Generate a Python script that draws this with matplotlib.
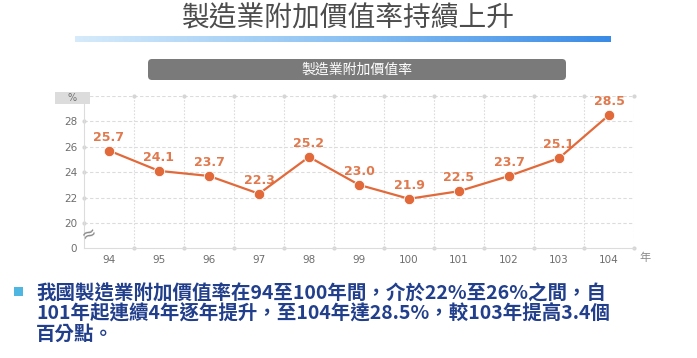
import numpy as np
import matplotlib
matplotlib.use("Agg")
import matplotlib.pyplot as plt
from matplotlib.patches import FancyBboxPatch, Rectangle
from matplotlib.colors import LinearSegmentedColormap

# data
years = [94, 95, 96, 97, 98, 99, 100, 101, 102, 103, 104]
rate = [25.7, 24.1, 23.7, 22.3, 25.2, 23.0, 21.9, 22.5, 23.7, 25.1, 28.5]
ytick_vals = [18, 20, 22, 24, 26, 28]
ytick_labels = ["0", "20", "22", "24", "26", "28"]

title = "製造業附加價值率持續上升"
box_title = "製造業附加價值率"
note_lines = ["我國製造業附加價值率在94至100年間，介於22%至26%之間，自",
              "101年起連續4年逐年提升，至104年達28.5%，較103年提高3.4個",
              "百分點。"]

CJK = ["Noto Sans CJK TC", "DejaVu Sans"]
orange = "#e2693a"
grid_c = "#dcdcdc"
tick_c = "#6e6e6e"

W, H = 697, 358
fig = plt.figure(figsize=(W / 100, H / 100), dpi=100)
fig.patch.set_facecolor("white")

# overlay in pixel coordinates (decorations behind the chart)
ov = fig.add_axes([0, 0, 1, 1])
ov.set_xlim(0, W)
ov.set_ylim(H, 0)
ov.axis("off")

# main chart axes (pixel box: x 84..634, y 96..248)
ax = fig.add_axes([84 / W, 1 - 248.3 / H, 550 / W, 152.3 / H])
ax.patch.set_alpha(0)
ax.set_xlim(93.5, 104.5)
ax.set_ylim(18, 30)

ax.plot(years, rate, color=orange, lw=1.6, marker="o", ms=7.5,
        markerfacecolor=orange, markeredgecolor="white", markeredgewidth=0.6,
        zorder=5)
for x, v in zip(years, rate):
    ax.annotate(f"{v:.1f}", (x, v), xytext=(0, 5), textcoords="offset points",
                ha="center", va="bottom", fontsize=9, fontweight="bold",
                color="#e07a4e")

ax.set_xticks(years)
ax.set_xticklabels([str(y) for y in years], fontsize=7.5, color=tick_c)
ax.set_yticks(ytick_vals)
ax.set_yticklabels(ytick_labels, fontsize=7.5, color=tick_c)
ax.tick_params(length=0, pad=5)

# grid
for yv in [20, 22, 24, 26, 28, 30]:
    ax.axhline(yv, color=grid_c, lw=0.8, ls=(0, (3, 2)), zorder=1)
for xv in np.arange(94.5, 105, 1.0):
    ax.axvline(xv, color=grid_c, lw=0.8, ls=(0, (1.5, 1.5)), zorder=1)
for s in ["top", "right"]:
    ax.spines[s].set_visible(False)
ax.spines["left"].set_color(grid_c)
ax.spines["bottom"].set_color(grid_c)

# small dots at grid ends
gx = np.arange(94.5, 105, 1.0)
dot_c = "#d6d6d6"
ax.scatter(gx, [30] * len(gx), s=9, color=dot_c, clip_on=False, zorder=2, linewidths=0)
ax.scatter(gx, [18] * len(gx), s=9, color=dot_c, clip_on=False, zorder=2, linewidths=0)
ax.scatter([93.5] * 5, [20, 22, 24, 26, 28], s=9, color=dot_c,
           clip_on=False, zorder=2, linewidths=0)

# axis break mark
ax.text(93.6, 19.1, "≈", fontsize=13, color="#8a8a8a", ha="center",
        va="center", rotation=25, clip_on=False)

ov.text(348, 18, title, fontsize=20, family=CJK, color="#4d4d4d",
        ha="center", va="center", fontweight="medium")

# gradient bar
cmap = LinearSegmentedColormap.from_list("bar", ["#d6ebfb", "#8cc2f3", "#3a8be6"])
grad = np.linspace(0, 1, 256).reshape(1, -1)
ov.imshow(grad, cmap=cmap, extent=[75, 611, 42, 36], aspect="auto")

# gray header box
ov.add_patch(FancyBboxPatch((148, 59), 418, 21, boxstyle="round,pad=0,rounding_size=4",
                            facecolor="#7a7a7a", edgecolor="none"))
ov.text(357, 69.5, box_title, fontsize=10, family=CJK, color="white",
        ha="center", va="center")

# % box
ov.add_patch(Rectangle((55, 92), 35, 12, facecolor="#dcdcdc", edgecolor="none"))
ov.text(72, 98, "%", fontsize=7, color=tick_c, ha="center", va="center")
ov.text(645, 258, "年", fontsize=8, family=CJK, color="#8a8a8a",
        ha="center", va="center")

# bullet note
ov.add_patch(Rectangle((14, 287), 9, 9, facecolor="#4fb6e2", edgecolor="none"))
for i, line in enumerate(note_lines):
    ov.text(36, 293.5 + i * 20.5, line, fontsize=14, family=CJK,
            fontweight="bold", color="#223f8c", ha="left", va="center")

fig.savefig("out.png", dpi=100)
